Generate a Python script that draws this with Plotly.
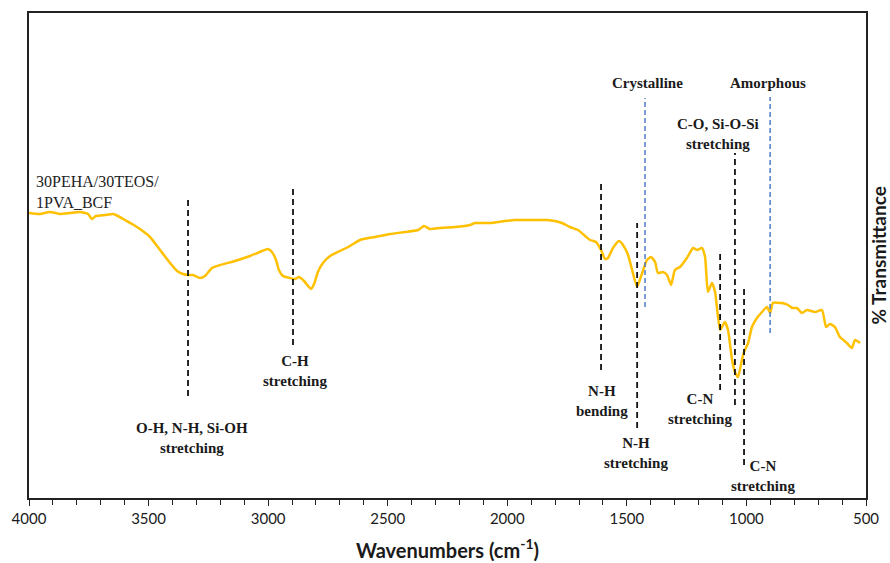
import plotly.graph_objects as go

# ---- data ----
wavenumber = [4000, 3954, 3912, 3870, 3829, 3787, 3753, 3737, 3720, 3682, 3649, 3628, 3599, 3569,
              3536, 3494, 3452, 3410, 3381, 3356, 3335, 3314, 3285, 3264, 3235, 3201, 3139, 3076,
              3026, 3001, 2984, 2967, 2955, 2938, 2909, 2888, 2871, 2850, 2833, 2821, 2808, 2792,
              2771, 2741, 2700, 2658, 2616, 2553, 2490, 2428, 2373, 2348, 2323, 2281, 2219, 2156,
              2135, 2072, 2010, 1968, 1905, 1834, 1801, 1771, 1738, 1704, 1675, 1654, 1629, 1608,
              1591, 1579, 1558, 1533, 1516, 1495, 1478, 1457, 1436, 1416, 1399, 1382, 1370, 1349,
              1332, 1315, 1299, 1278, 1249, 1223, 1207, 1186, 1173, 1161, 1144, 1131, 1110, 1090,
              1077, 1060, 1048, 1035, 1019, 1010, 993, 977, 956, 935, 914, 901, 889, 851, 826, 809,
              789, 768, 747, 713, 684, 667, 651, 630, 609, 580, 559, 546, 525]
transmittance = [285, 284, 286, 284, 285, 286, 284, 279, 282, 283, 284, 282, 278, 274,
                 269, 261, 248, 235, 227, 224, 223, 223, 220, 222, 230, 233, 237, 242,
                 247, 249, 246, 238, 228, 222, 220, 219, 221, 217, 212, 209, 214, 226,
                 235, 242, 247, 252, 258, 261, 264, 266, 268, 272, 269, 270, 271, 273,
                 275, 275, 277, 278, 278, 278, 277, 275, 271, 268, 262, 258, 256, 248,
                 239, 240, 250, 257, 253, 243, 228, 211, 225, 238, 241, 236, 225, 226,
                 223, 213, 228, 231, 240, 250, 248, 250, 241, 206, 215, 206, 168, 176,
                 168, 138, 126, 121, 138, 146, 155, 171, 180, 186, 191, 185, 195, 195, 193, 190,
                 190, 185, 188, 186, 188, 171, 174, 171, 161, 155, 150, 158, 155]

sample_label = "30PEHA/30TEOS/<br>1PVA_BCF"

# band markers: position, bottom, top, colour
band_pos = [3335, 2896, 1608, 1457, 1424, 1110, 1048, 1010, 901]
band_lo = [102, 153, 128, 70, 191, 108, 93, 33, 165]
band_hi = [301, 310, 316, 275, 400, 248, 345, 210, 401]
band_kind = ["black", "black", "black", "black", "blue", "black", "black", "black", "blue"]

# band labels
label_text = ["O-H, N-H, Si-OH<br>stretching", "C-H<br>stretching", "N-H<br>bending",
              "N-H<br>stretching", "Crystalline", "C-N<br>stretching",
              "C-O, Si-O-Si<br>stretching", "C-N<br>stretching", "Amorphous"]
label_x = [3318, 2888, 1604, 1462, 1412, 1194, 1119, 931, 910]
label_y = [60, 127, 97, 45, 415, 89, 364, 22, 415]

x_ticks = [4000, 3500, 3000, 2500, 2000, 1500, 1000, 500]

fig = go.Figure()
fig.add_trace(go.Scatter(x=wavenumber, y=transmittance, mode="lines",
                         line=dict(color="#FFC000", width=2.5, shape="spline", smoothing=0.5),
                         hoverinfo="skip", showlegend=False))

shapes = []
for xp, lo, hi, kind in zip(band_pos, band_lo, band_hi, band_kind):
    if kind == "black":
        ln = dict(color="#111111", width=1.8, dash="6px,4px")
    else:
        ln = dict(color="#4472C4", width=1.4, dash="5px,3px")
    shapes.append(dict(type="line", xref="x", yref="y", x0=xp, x1=xp, y0=lo, y1=hi, line=ln))

annotations = []
for t, xx, yy in zip(label_text, label_x, label_y):
    annotations.append(dict(x=xx, y=yy, xref="x", yref="y", text="<b>" + t + "</b>",
                            showarrow=False, xanchor="center", yanchor="middle",
                            font=dict(family="Liberation Serif", size=15, color="#1a1a1a")))
annotations.append(dict(x=3980, y=306, xref="x", yref="y", text=sample_label, showarrow=False,
                        xanchor="left", yanchor="middle", align="left",
                        font=dict(family="Liberation Serif", size=16, color="#222222")))
annotations.append(dict(x=(877.5 - 29) / (866 - 29), y=(498 - 255) / (498 - 13),
                        xref="paper", yref="paper", text="<b>% Transmittance</b>",
                        showarrow=False, textangle=-90, xanchor="center", yanchor="middle",
                        borderpad=0,
                        font=dict(family="Lato", size=19, color="#1a1a1a")))

fig.update_layout(
    width=890, height=563,
    margin=dict(l=29, r=24, t=13, b=65),
    paper_bgcolor="white", plot_bgcolor="white",
    shapes=shapes, annotations=annotations,
    xaxis=dict(range=[4000, 500], tickvals=x_ticks, ticktext=[str(v) for v in x_ticks],
               automargin=False,
               showgrid=False, zeroline=False, showline=True, linecolor="#222222", linewidth=1.5,
               mirror=True, ticks="outside", ticklen=6, tickwidth=1.3, tickcolor="#222222",
               minor=dict(dtick=100, ticks="outside", ticklen=5, tickwidth=1.3, tickcolor="#222222"),
               tickfont=dict(family="Lato", size=15, color="#1a1a1a"),
               title=dict(text="<b>Wavenumbers (cm<sup>-1</sup>)</b>", standoff=18,
                          font=dict(family="Lato", size=20, color="#1a1a1a"))),
    yaxis=dict(range=[0, 485], showgrid=False, zeroline=False, showticklabels=False, ticks="",
               automargin=False,
               showline=True, linecolor="#222222", linewidth=1.5, mirror=True),
)

fig.write_html("out.html")
